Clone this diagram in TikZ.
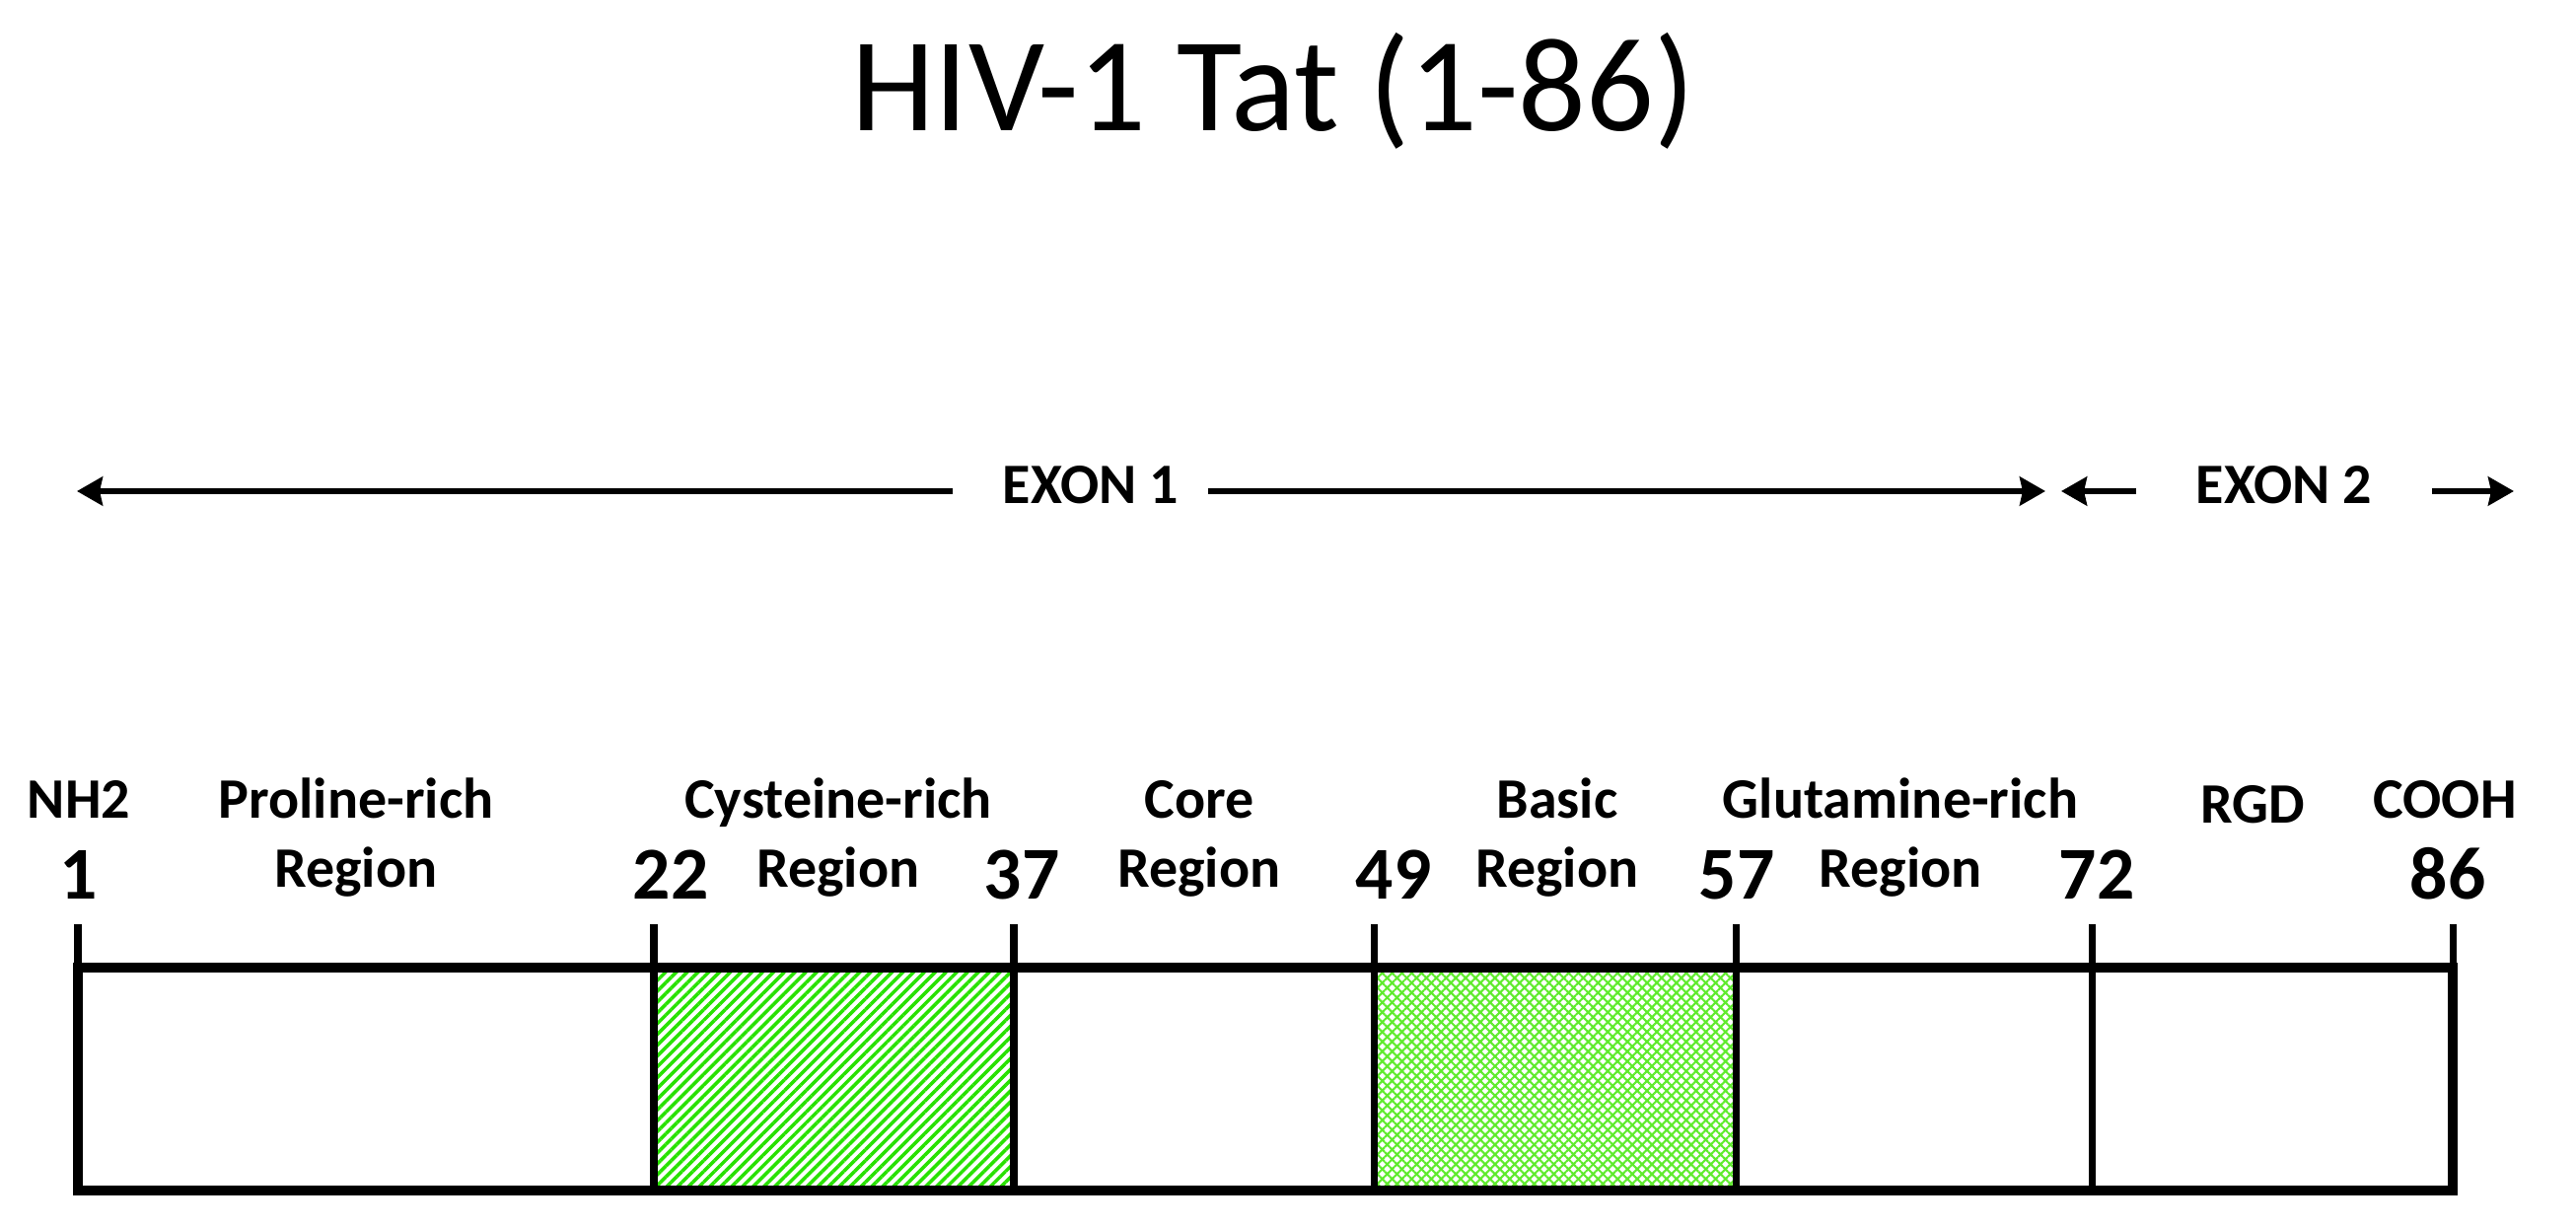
\documentclass[tikz,border=0pt]{standalone}
\usepackage{fontspec}
\setmainfont{Carlito}
\usepackage{xcolor}
\usepackage{tikz}
\usetikzlibrary{arrows.meta,patterns.meta,positioning,calc}
\definecolor{hatch-green}{RGB}{40, 225, 0}
\definecolor{cross-green}{RGB}{95, 235, 45}

\begin{document}
\begin{tikzpicture}
  [region/.style = {font=\bfseries\fontsize{16.5}{19.8}\selectfont,
    anchor=base, inner sep=0pt}, resnum/.style =
  {font=\bfseries\fontsize{21.5}{25}\selectfont, anchor=base, inner
    sep=0pt}, exon label/.style = {font=\bfseries\fontsize{16.5}{20}\selectfont,
    inner ysep=0pt, inner xsep=2.9mm}, post/.style={-{Stealth[length=2.6mm,
      width=2.9mm, inset=0.3mm]}, line width=1.8pt}, tick line/.style =
  {line width=2pt}, frame/.style = {line width=2.6pt}]

  \useasboundingbox (0,0) rectangle (26.12,12.45);

  \node [font=\fontsize{38.6}{46}\selectfont, anchor=base] (title) at
  (12.91,11.12) {HIV-1 Tat (1-86)};

  % exons
  \coordinate (ex1L) at (0.78,7.47); \coordinate (ex1R) at (20.74,7.47);
  \coordinate (ex2L) at (20.90,7.47); \coordinate (ex2R) at (25.49,7.47);
  \node [exon label] (ex1) at (11.06,7.53) {EXON 1};
  \node [exon label, inner xsep=6mm] (ex2) at (23.16,7.53) {EXON 2};
  \draw [post] ([xshift=-2.1mm]ex1.west |- ex1L) -- (ex1L);
  \draw [post] (ex1.east |- ex1R) -- (ex1R);
  \draw [post] (ex2.west |- ex2L) -- (ex2L);
  \draw [post] (ex2.east |- ex2R) -- (ex2R);

  % domains
  \fill [pattern={Lines[angle=45, distance=2.2pt, line width=1pt]},
  pattern color=hatch-green] (6.63,0.38) rectangle (10.28,2.64);
  \fill [pattern={Hatch[angle=45, distance=2pt, line width=0.6pt]},
  pattern color=cross-green] (13.93,0.38) rectangle (17.60,2.64);
  \draw [frame] (0.79,0.38) rectangle (24.87,2.64);
  \foreach \n/\x/\lx in {1/0.79/0.80, 22/6.63/6.80, 37/10.28/10.36,
    49/13.93/14.13, 57/17.60/17.61, 72/21.21/21.26, 86/24.87/24.82} {
    \coordinate (t\n) at (\x,3.08);
    \draw [tick line] (t\n) -- (\x,0.38);
    \node [resnum] (n\n) at (\lx,3.33) {\n};
  }

  \node [region] (nh2) at (0.80,4.15) {NH2};
  \node [region] (cooh) at (24.79,4.15) {COOH};
  \node [region] (rgd) at (22.84,4.10) {RGD};
  \foreach \name/\x/\top in {pro/3.61/Proline-rich, cys/8.50/Cysteine-rich,
    core/12.16/Core, basic/15.79/Basic, gln/19.27/Glutamine-rich} {
    \node [region] (\name) at (\x,4.15) {\top};
    \node [region] (\name2) at (\x,3.45) {Region};
  }
\end{tikzpicture}
\end{document}
